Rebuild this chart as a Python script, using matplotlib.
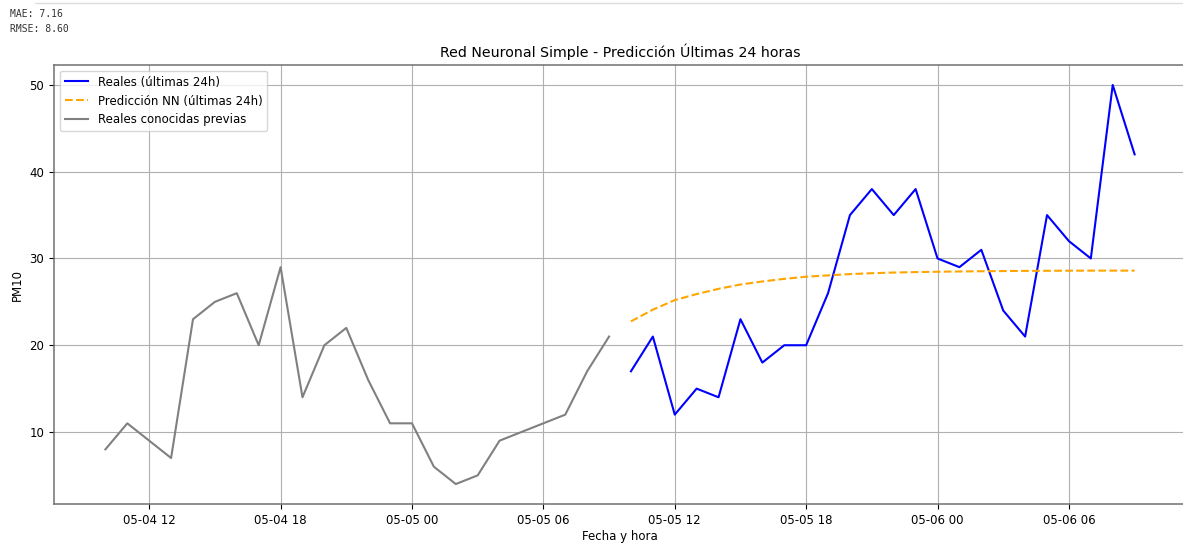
import numpy as np
import pandas as pd
import matplotlib
matplotlib.use("Agg")
import matplotlib.pyplot as plt
import matplotlib.dates as mdates
from matplotlib.lines import Line2D

# Data (hourly)
prev_times = pd.date_range("2024-05-04 10:00", periods=24, freq="h")
prev_vals = [8, 11, 9, 7, 23, 25, 26, 20, 29, 14, 20, 22,
             16, 11, 11, 6, 4, 5, 9, 10, 11, 12, 17, 21]

last_times = pd.date_range("2024-05-05 10:00", periods=24, freq="h")
real_vals = [17, 21, 12, 15, 14, 23, 18, 20, 20, 26, 35, 38,
             35, 38, 30, 29, 31, 24, 21, 35, 32, 30, 50, 42]
pred_vals = [22.75, 24.1, 25.2, 25.9, 26.5, 27.0, 27.35, 27.65, 27.9, 28.05, 28.2, 28.3,
             28.38, 28.43, 28.47, 28.5, 28.53, 28.55, 28.57, 28.58, 28.59, 28.6, 28.6, 28.6]

mae = 7.16
rmse = 8.60

plt.rcParams["font.size"] = 8.5
plt.rcParams["lines.linewidth"] = 1.5

fig = plt.figure(figsize=(11.83, 5.43), dpi=100)
ax = fig.add_axes([0.0456, 0.0718, 0.957, 0.8085])

ax.plot(last_times, real_vals, color="blue", label="Reales (últimas 24h)")
ax.plot(last_times, pred_vals, color="orange", linestyle="--", label="Predicción NN (últimas 24h)")
ax.plot(prev_times, prev_vals, color="gray", label="Reales conocidas previas")

ax.xaxis.set_major_locator(mdates.HourLocator(byhour=[0, 6, 12, 18]))
ax.xaxis.set_major_formatter(mdates.DateFormatter("%m-%d %H"))

ax.set_title("Red Neuronal Simple - Predicción Últimas 24 horas", fontsize=10.2)
ax.set_xlabel("Fecha y hora", labelpad=2)
ax.set_ylabel("PM10")
ax.grid(True, color="#b0b0b0", linewidth=0.8)
ax.legend(loc="upper left", fontsize=8.5)

for s in ax.spines.values():
    s.set_color("#707070")
    s.set_linewidth(1.1)

fig.text(0.0085, 0.984, f"MAE: {mae:.2f}\nRMSE: {rmse:.2f}", family="DejaVu Sans Mono",
         fontsize=7, va="top", ha="left", color="#333333", linespacing=1.7)
fig.add_artist(Line2D([0.03, 1.0], [0.995, 0.995], color="#dddddd", linewidth=1,
                      transform=fig.transFigure))

fig.savefig("out.png", dpi=100)
